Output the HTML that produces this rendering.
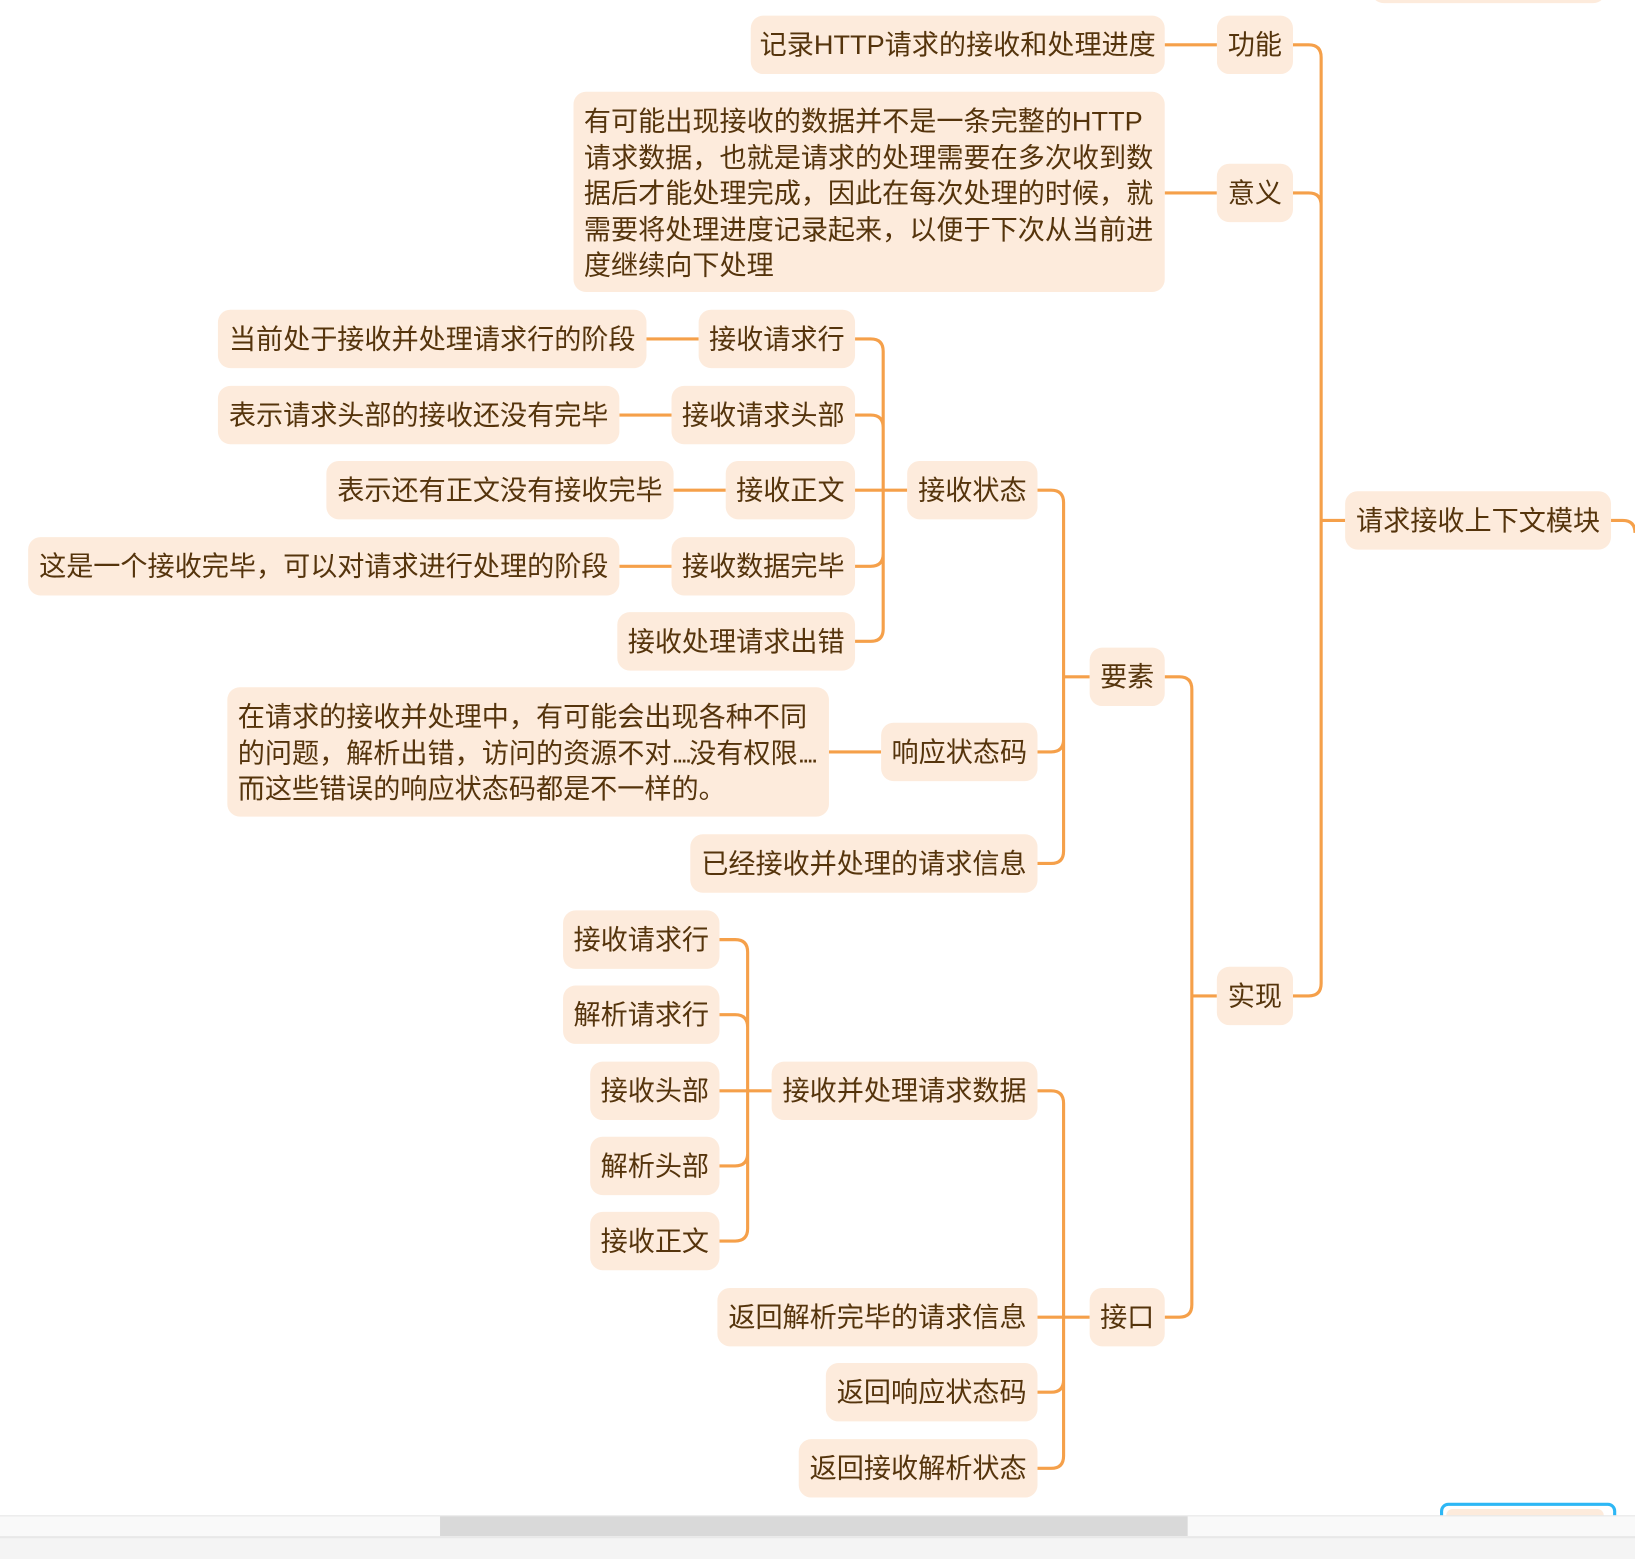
<!DOCTYPE html>
<html><head><meta charset="utf-8"><style>
html,body{margin:0;padding:0;width:1635px;height:1557px;overflow:hidden;background:#fff;}
#w{position:absolute;left:0;top:0;width:1568px;height:1493px;transform:scale(1.04273,1.04287);transform-origin:0 0;}
.n{position:absolute;background:#fdebdc;border-radius:12px;color:#55340c;font-family:"Liberation Sans","Noto Sans CJK SC",sans-serif;font-size:26px;height:56px;line-height:56px;text-align:center;white-space:nowrap;letter-spacing:0;}
.m{position:absolute;background:#fdebdc;border-radius:12px;color:#55340c;font-family:"Liberation Sans","Noto Sans CJK SC",sans-serif;font-size:26px;line-height:34.5px;padding:11px 10px;box-sizing:border-box;white-space:nowrap;letter-spacing:0;}
.d{letter-spacing:-3px;}
svg{position:absolute;left:0;top:0;}
</style></head><body><div id="w">
<svg width="1568" height="1493" fill="none" stroke="#f5a04a" stroke-width="3">
<path d="M1117 43H1167M1117 185H1167M620 325H670M594 398H644M646 470H696M594 543H644M795 721H845"/>
<path d="M1290 499H1267M1240 43H1255Q1267 43 1267 55V943M1240 185H1255Q1267 185 1267 197V499M1240 955H1255Q1267 955 1267 943"/>
<path d="M1545 499H1556Q1568 499 1568 511"/>
<path d="M1167 955H1143M1117 649H1131Q1143 649 1143 661V1251Q1143 1263 1131 1263H1117"/>
<path d="M1045 649H1020M995 470H1008Q1020 470 1020 482V816Q1020 828 1008 828H995M995 721H1008Q1020 721 1020 709"/>
<path d="M870 470H820M820 325H835Q847 325 847 337V603Q847 615 835 615H820M820 398H835Q847 398 847 410M820 543H835Q847 543 847 531"/>
<path d="M1045 1263H995M995 1046H1008Q1020 1046 1020 1058V1396Q1020 1408 1008 1408H995M995 1335H1008Q1020 1335 1020 1323"/>
<path d="M740 1046H690M690 901H705Q717 901 717 913V1178Q717 1190 705 1190H690M690 973H705Q717 973 717 985M690 1118H705Q717 1118 717 1106"/>
</svg>
<div class="n" style="left:1315px;top:-53px;width:225px;"></div>
<div class="n" style="left:720px;top:15px;width:397px;">记录HTTP请求的接收和处理进度</div>
<div class="n" style="left:1167px;top:15px;width:73px;">功能</div>
<div class="m" style="left:550px;top:88px;width:567px;height:192px;">有可能出现接收的数据并不是一条完整的HTTP<br>请求数据，也就是请求的处理需要在多次收到数<br>据后才能处理完成，因此在每次处理的时候，就<br>需要将处理进度记录起来，以便于下次从当前进<br>度继续向下处理</div>
<div class="n" style="left:1167px;top:157px;width:73px;">意义</div>
<div class="n" style="left:1290px;top:471px;width:255px;">请求接收上下文模块</div>
<div class="n" style="left:1167px;top:927px;width:73px;">实现</div>
<div class="n" style="left:1045px;top:621px;width:72px;">要素</div>
<div class="n" style="left:1045px;top:1235px;width:72px;">接口</div>
<div class="n" style="left:870px;top:442px;width:125px;">接收状态</div>
<div class="n" style="left:845px;top:693px;width:150px;">响应状态码</div>
<div class="n" style="left:662px;top:800px;width:333px;">已经接收并处理的请求信息</div>
<div class="n" style="left:670px;top:297px;width:150px;">接收请求行</div>
<div class="n" style="left:644px;top:370px;width:176px;">接收请求头部</div>
<div class="n" style="left:696px;top:442px;width:124px;">接收正文</div>
<div class="n" style="left:644px;top:515px;width:176px;">接收数据完毕</div>
<div class="n" style="left:592px;top:587px;width:228px;">接收处理请求出错</div>
<div class="n" style="left:209px;top:297px;width:411px;">当前处于接收并处理请求行的阶段</div>
<div class="n" style="left:209px;top:370px;width:385px;">表示请求头部的接收还没有完毕</div>
<div class="n" style="left:313px;top:442px;width:333px;">表示还有正文没有接收完毕</div>
<div class="n" style="left:27px;top:515px;width:567px;">这是一个接收完毕，可以对请求进行处理的阶段</div>
<div class="m" style="left:218px;top:659px;width:577px;height:124px;">在请求的接收并处理中，有可能会出现各种不同<br>的问题，解析出错，访问的资源不对<span class="d">....</span>没有权限<span class="d">....</span><br>而这些错误的响应状态码都是不一样的。</div>
<div class="n" style="left:740px;top:1018px;width:255px;">接收并处理请求数据</div>
<div class="n" style="left:688px;top:1235px;width:307px;">返回解析完毕的请求信息</div>
<div class="n" style="left:792px;top:1307px;width:203px;">返回响应状态码</div>
<div class="n" style="left:766px;top:1380px;width:229px;">返回接收解析状态</div>
<div class="n" style="left:540px;top:873px;width:150px;">接收请求行</div>
<div class="n" style="left:540px;top:945px;width:150px;">解析请求行</div>
<div class="n" style="left:566px;top:1018px;width:124px;">接收头部</div>
<div class="n" style="left:566px;top:1090px;width:124px;">解析头部</div>
<div class="n" style="left:566px;top:1162px;width:124px;">接收正文</div>
<div style="position:absolute;left:1381px;top:1441px;width:163px;height:20px;border:3px solid #2db7f5;border-radius:8px;"></div>
<div style="position:absolute;left:1387px;top:1447px;width:151px;height:20px;background:#fdebdc;border-radius:6px;"></div>
<div style="position:absolute;left:0;top:1453px;width:1568px;height:20px;background:#f9f9f9;border-top:1px solid #e6e6e6;"></div>
<div style="position:absolute;left:422px;top:1454px;width:717px;height:19px;background:#d9d9d9;"></div>
<div style="position:absolute;left:0;top:1473px;width:1568px;height:20px;background:#f4f4f4;border-top:2px solid #e8e8e8;"></div>
</div></body></html>
